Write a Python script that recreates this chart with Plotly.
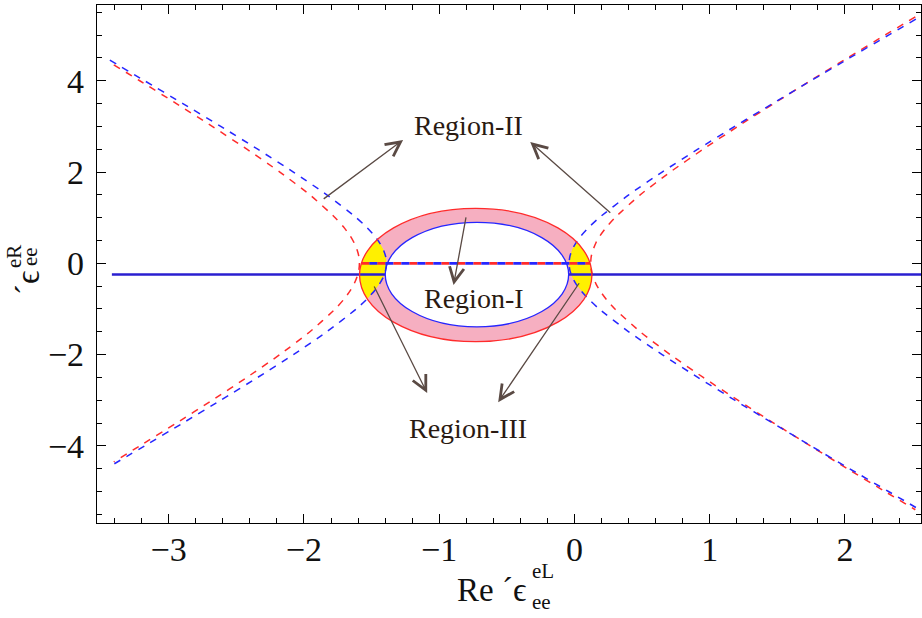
import plotly.graph_objects as go

# ---------------- data ----------------
# dashed blue contour: left branch and right branch
blue_left_x = [-3.435, -3.178, -2.895, -2.615, -2.342, -2.078, -1.831, -1.613, -1.540, -1.478, -1.441, -1.413, -1.396, -1.390,
               -1.396, -1.413, -1.441, -1.478, -1.540, -1.613, -1.831, -2.078, -2.342, -2.615, -2.895, -3.178, -3.435]
blue_left_y = [4.45, 4.0, 3.5, 3.0, 2.5, 2.0, 1.5, 1.0, 0.8, 0.6, 0.45, 0.3, 0.15, 0.0,
               -0.15, -0.3, -0.45, -0.6, -0.8, -1.0, -1.5, -2.0, -2.5, -3.0, -3.5, -4.0, -4.45]
blue_right_x = [2.524, 2.322, 2.034, 1.748, 1.465, 1.185, 0.912, 0.648, 0.401, 0.183, 0.110, 0.048, 0.011, -0.017, -0.034, -0.040,
                -0.034, -0.017, 0.011, 0.048, 0.110, 0.183, 0.401, 0.648, 0.912, 1.185, 1.465, 1.748, 2.034, 2.322, 2.524]
blue_right_y = [5.35, 5.0, 4.5, 4.0, 3.5, 3.0, 2.5, 2.0, 1.5, 1.0, 0.8, 0.6, 0.45, 0.3, 0.15, 0.0,
                -0.15, -0.3, -0.45, -0.6, -0.8, -1.0, -1.5, -2.0, -2.5, -3.0, -3.5, -4.0, -4.5, -5.0, -5.35]

# dashed red contour: left branch and right branch
red_left_x = [-3.406, -3.214, -2.943, -2.678, -2.422, -2.178, -1.956, -1.769, -1.708, -1.658, -1.629, -1.608, -1.594, -1.590,
              -1.594, -1.608, -1.629, -1.658, -1.708, -1.769, -1.956, -2.178, -2.422, -2.678, -2.943, -3.214, -3.406]
red_left_y = [4.35, 4.0, 3.5, 3.0, 2.5, 2.0, 1.5, 1.0, 0.8, 0.6, 0.45, 0.3, 0.15, 0.0,
              -0.15, -0.3, -0.45, -0.6, -0.8, -1.0, -1.5, -2.0, -2.5, -3.0, -3.5, -4.0, -4.35]
red_right_x = [2.520, 2.296, 2.018, 1.744, 1.473, 1.208, 0.952, 0.708, 0.486, 0.299, 0.238, 0.188, 0.159, 0.138, 0.124, 0.120,
               0.124, 0.138, 0.159, 0.188, 0.238, 0.299, 0.486, 0.708, 0.952, 1.208, 1.473, 1.744, 2.018, 2.296, 2.520]
red_right_y = [5.4, 5.0, 4.5, 4.0, 3.5, 3.0, 2.5, 2.0, 1.5, 1.0, 0.8, 0.6, 0.45, 0.3, 0.15, 0.0,
               -0.15, -0.3, -0.45, -0.6, -0.8, -1.0, -1.5, -2.0, -2.5, -3.0, -3.5, -4.0, -4.5, -5.0, -5.4]

# solid horizontal line (two pieces) and dashed horizontal line
solid_left_x = [-3.42, -1.399]
solid_right_x = [-0.043, 2.562]
solid_y = -0.245
dash_h_x = [-1.576, 0.116]
dash_h_y = 0.0

# ellipses (bounds)
outer_ellipse = dict(x0=-1.589, x1=0.129, y0=-1.717, y1=1.203)
inner_ellipse = dict(x0=-1.399, x1=-0.043, y0=-1.391, y1=0.899)

# yellow overlap regions
yellow_left_x = [-1.455, -1.441, -1.413, -1.396, -1.390, -1.396, -1.413, -1.441, -1.478, -1.526,
                 -1.536, -1.565, -1.5815, -1.589, -1.576, -1.536, -1.491, -1.461]
yellow_left_y = [0.51, 0.45, 0.3, 0.15, 0.0, -0.15, -0.3, -0.45, -0.6, -0.76,
                 -0.76, -0.6, -0.45, -0.257, 0.0, 0.25, 0.42, 0.51]
yellow_right_x = [0.015, -0.017, -0.034, -0.040, -0.034, -0.017, 0.011, 0.048, 0.083,
                  0.085, 0.105, 0.1215, 0.129, 0.116, 0.076, 0.015]
yellow_right_y = [0.47, 0.3, 0.15, 0.0, -0.15, -0.3, -0.45, -0.6, -0.72,
                  -0.72, -0.6, -0.45, -0.257, 0.0, 0.25, 0.47]

# region labels and arrows (head x, head y, tail x, tail y)
labels = ["Region-II", "Region-I", "Region-III"]
label_x = [-0.78, -0.743, -0.79]
label_y = [3.03, -0.76, -3.62]
arrows = [(-1.267, 2.704, -1.865, 1.388),
          (-0.327, 2.660, 0.276, 1.081),
          (-0.894, -0.476, -0.800, 1.037),
          (-1.089, -2.844, -1.486, -0.476),
          (-0.564, -3.042, 0.042, -0.404)]

# ---------------- styling ----------------
RED = "#ff2b2b"
BLUE = "#2626ff"
PINK = "#f6afc1"
YELLOW = "#fff000"
SERIF = "Liberation Serif"
INK = "#111111"

fig = go.Figure()

# filled ellipses (below traces)
fig.add_shape(type="circle", xref="x", yref="y", **outer_ellipse,
              fillcolor=PINK, line=dict(width=0), layer="below")
fig.add_shape(type="circle", xref="x", yref="y", **inner_ellipse,
              fillcolor="white", line=dict(width=0), layer="below")

# yellow regions
for xs, ys in [(yellow_left_x, yellow_left_y), (yellow_right_x, yellow_right_y)]:
    fig.add_trace(go.Scatter(x=xs, y=ys, mode="lines", fill="toself", fillcolor=YELLOW,
                             line=dict(width=0, color=YELLOW), hoverinfo="skip"))

# dashed contours
for xs, ys, c in [(red_left_x, red_left_y, RED), (red_right_x, red_right_y, RED),
                  (blue_left_x, blue_left_y, BLUE), (blue_right_x, blue_right_y, BLUE)]:
    fig.add_trace(go.Scatter(x=xs, y=ys, mode="lines",
                             line=dict(color=c, width=1.5, dash="7px,7px", shape="spline", smoothing=0.6),
                             hoverinfo="skip"))

# dashed horizontal line (red and blue alternating)
fig.add_trace(go.Scatter(x=dash_h_x, y=[dash_h_y, dash_h_y], mode="lines",
                         line=dict(color=RED, width=2.8, dash="8px,8px"), hoverinfo="skip"))
fig.add_trace(go.Scatter(x=dash_h_x, y=[dash_h_y, dash_h_y], mode="lines",
                         line=dict(color=BLUE, width=2.8, dash="0px,8px,8px,0px"), hoverinfo="skip"))

# solid horizontal line
for xs in [solid_left_x, solid_right_x]:
    fig.add_trace(go.Scatter(x=xs, y=[solid_y, solid_y], mode="lines",
                             line=dict(color="#2a1fd0", width=2.6), hoverinfo="skip"))

# ellipse outlines (above traces)
fig.add_shape(type="circle", xref="x", yref="y", **outer_ellipse,
              fillcolor="rgba(0,0,0,0)", line=dict(color=RED, width=1.3), layer="above")
fig.add_shape(type="circle", xref="x", yref="y", **inner_ellipse,
              fillcolor="rgba(0,0,0,0)", line=dict(color=BLUE, width=1.3), layer="above")

annotations = []
for t, x, y in zip(labels, label_x, label_y):
    annotations.append(dict(x=x, y=y, xref="x", yref="y", text=t, showarrow=False,
                            font=dict(family=SERIF, size=28, color="#2a1a12")))
for hx, hy, tx, ty in arrows:
    annotations.append(dict(x=hx, y=hy, ax=tx, ay=ty, xref="x", yref="y", axref="x", ayref="y",
                            text="", showarrow=True, arrowhead=5, arrowsize=2.2, arrowwidth=1.3,
                            arrowcolor="#5a4a44", standoff=0, startstandoff=0))

# axis titles built from pieces (stacked super/subscripts)
L, R, T, B = 97, 921, 5, 523
PW = float(R - L)
PH = float(B - T)
def px_x(p):
    return (p - L) / PW
def px_y(p):
    return (B - p) / PH

annotations += [
    # x title: Re ϵ́ with stacked eL / ee
    dict(x=px_x(528), y=px_y(590), xref="paper", yref="paper", text="Re ´ϵ", showarrow=False,
         xanchor="right", yanchor="middle", font=dict(family=SERIF, size=33, color=INK)),
    dict(x=px_x(530), y=px_y(571), xref="paper", yref="paper", text="eL", showarrow=False,
         xanchor="left", yanchor="middle", font=dict(family=SERIF, size=21, color=INK)),
    dict(x=px_x(530), y=px_y(602), xref="paper", yref="paper", text="ee", showarrow=False,
         xanchor="left", yanchor="middle", font=dict(family=SERIF, size=21, color=INK)),
    # y title: ϵ́ with stacked eR / ee (rotated)
    dict(x=px_x(28), y=px_y(283), xref="paper", yref="paper", text="´ϵ", showarrow=False, textangle=-90,
         xanchor="center", yanchor="middle", font=dict(family=SERIF, size=33, color=INK)),
    dict(x=px_x(14), y=px_y(257), xref="paper", yref="paper", text="eR", showarrow=False, textangle=-90,
         xanchor="center", yanchor="middle", font=dict(family=SERIF, size=21, color=INK)),
    dict(x=px_x(30), y=px_y(257), xref="paper", yref="paper", text="ee", showarrow=False, textangle=-90,
         xanchor="center", yanchor="middle", font=dict(family=SERIF, size=21, color=INK)),
]

axis_common = dict(showgrid=False, zeroline=False, showline=True, linecolor="black", linewidth=1.2,
                   mirror="ticks", ticks="inside", ticklen=9, tickwidth=1.2, tickcolor="black",
                   tickfont=dict(family=SERIF, size=34, color=INK))

fig.update_xaxes(range=[-3.53, 2.562], tick0=0, dtick=1, ticklabelstandoff=-4,
                 minor=dict(dtick=0.2, ticks="inside", ticklen=5, tickwidth=1, tickcolor="black"),
                 **axis_common)
fig.update_yaxes(range=[-5.69, 5.66], tick0=0, dtick=2, ticklabelstandoff=5,
                 minor=dict(dtick=0.5, ticks="inside", ticklen=5, tickwidth=1, tickcolor="black"),
                 **axis_common)

fig.update_layout(width=922, height=618, margin=dict(l=L, r=922 - R, t=T, b=618 - B),
                  plot_bgcolor="white", paper_bgcolor="white", showlegend=False,
                  annotations=annotations)

fig.write_html("out.html")
